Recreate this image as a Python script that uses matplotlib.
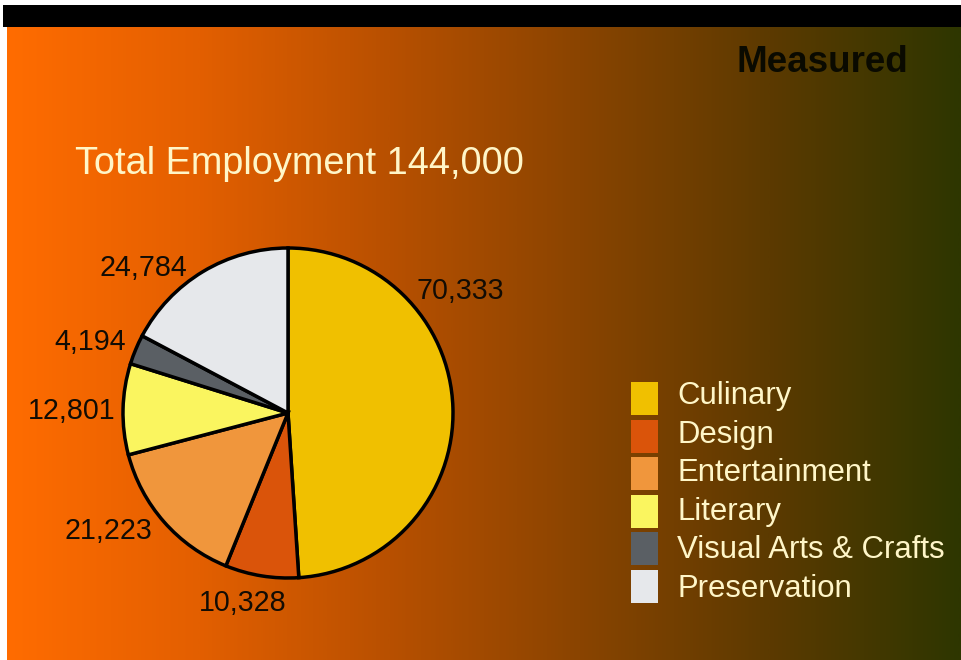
import numpy as np
import matplotlib
matplotlib.use("Agg")
import matplotlib.pyplot as plt
from matplotlib.patches import Rectangle
from matplotlib.colors import LinearSegmentedColormap

# Employment by creative-economy segment
categories = ["Culinary", "Design", "Entertainment", "Literary",
              "Visual Arts & Crafts", "Preservation"]
employment = [70333, 10328, 21223, 12801, 4194, 24784]
total_label = "144,000"
colors = ["#F0C000", "#DA540A", "#F0963C", "#FAF55F", "#5A5F64", "#E6E8EB"]

# label anchor points (pixel units, origin bottom-left)
label_pos = [(460, 369), (243, 57), (108, 129), (72, 249), (90, 318), (143, 392)]

W, H = 961, 660
fig = plt.figure(figsize=(W / 100, H / 100), dpi=100)
fig.patch.set_facecolor("white")
ax = fig.add_axes([0, 0, 1, 1])
ax.set_xlim(0, W)
ax.set_ylim(0, H)
ax.set_aspect("equal")
ax.axis("off")

# horizontal orange-to-olive backdrop
grad = LinearSegmentedColormap.from_list(
    "bg", ["#FF6C00", "#E35F00", "#B85000", "#8A4400", "#5C3A00", "#2E3600"])
ax.imshow(np.linspace(0, 1, 512)[None, :], cmap=grad, aspect="auto",
          extent=(7, W, 0, 633), zorder=0, interpolation="bilinear")
ax.add_patch(Rectangle((3, 633), W - 3, 22, color="black", zorder=1, lw=0))

font = "Liberation Sans"
cream = "#FFF6C8"

ax.text(908, 598, "Measured", ha="right", va="center", fontsize=26.5,
        fontweight="bold", color="#0a0a00", family=font, zorder=3)
ax.text(75, 496, f"Total Employment {total_label}", ha="left", va="center",
        fontsize=27.3, color=cream, family=font, zorder=3)

wedges, _ = ax.pie(employment, colors=colors, startangle=90, counterclock=False,
                   center=(288, 247), radius=165, frame=True,
                   wedgeprops=dict(edgecolor="black", linewidth=2.5))
for w in wedges:
    w.set_zorder(2)
ax.set_xlim(0, W)
ax.set_ylim(0, H)
ax.axis("off")

for val, (x, y) in zip(employment, label_pos):
    ax.text(x, y, f"{val:,}", ha="center", va="center", fontsize=20.6,
            color="#120c04", family=font, zorder=3)

# legend
for i, (name, c) in enumerate(zip(categories, colors)):
    top = 660 - 382 - i * 37.5
    ax.add_patch(Rectangle((631, top - 33), 27, 33, facecolor=c,
                           edgecolor="none", zorder=2))
    ax.text(677, 660 - 396 - i * 38.6, name, ha="left", va="center",
            fontsize=22.4, color=cream, family=font, zorder=3)

fig.savefig("out.png", dpi=100, facecolor=fig.get_facecolor())
